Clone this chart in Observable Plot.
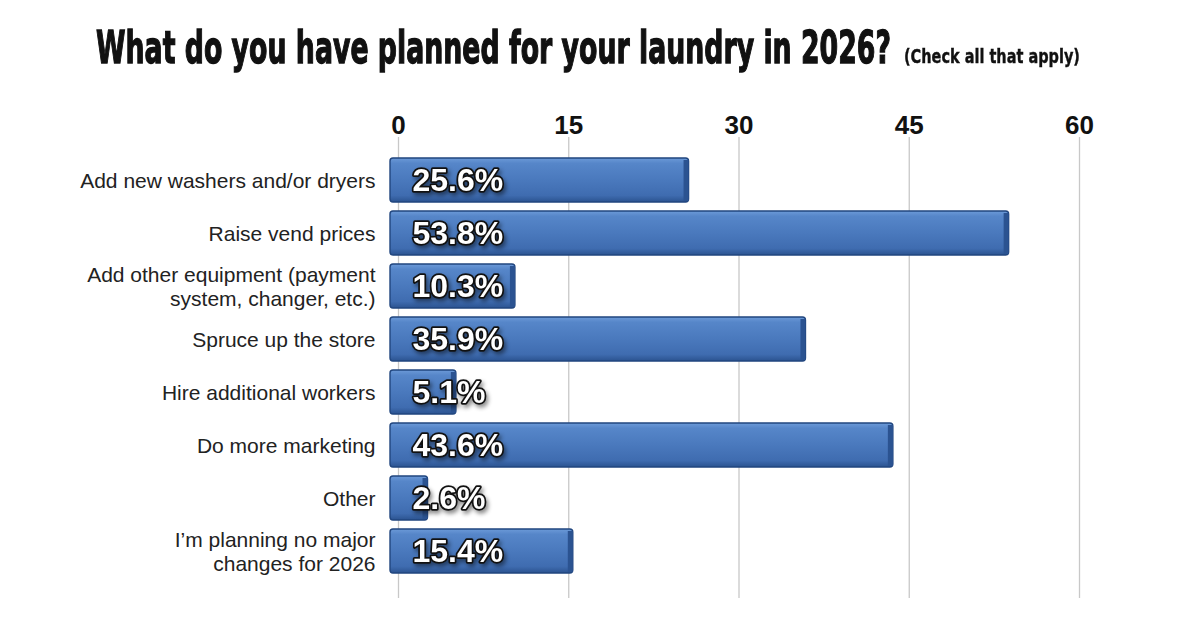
<!DOCTYPE html>
<html>
<head>
<meta charset="utf-8">
<script src="https://cdn.jsdelivr.net/npm/d3@7"></script>
<script src="https://cdn.jsdelivr.net/npm/@observablehq/plot@0.6"></script>
<style>
  html, body { margin: 0; padding: 0; background: #fff; overflow: hidden; }
  #title { position: relative; width: 1200px; height: 95px; }
  #title span { position: absolute; white-space: nowrap; transform-origin: 0 0; color: #111;
    font-family: 'DejaVu Sans', sans-serif; font-weight: bold; line-height: 1; }
  #main { left: 96px; top: 25px; font-size: 45px; -webkit-text-stroke: 1.4px #111; }
  #sub { left: 904px; top: 47px; font-size: 19px; -webkit-text-stroke: 0.4px #111; }
  #chart svg { display: block; }
</style>
</head>
<body>
<div id="title"><span id="main"></span><span id="sub"></span></div>
<div id="chart"></div>
<script>
const titleText = "What do you have planned for your laundry in 2026?";
const subtitleText = "(Check all that apply)";
const categories = [
  "Add new washers and/or dryers",
  "Raise vend prices",
  "Add other equipment (payment\nsystem, changer, etc.)",
  "Spruce up the store",
  "Hire additional workers",
  "Do more marketing",
  "Other",
  "I’m planning no major\nchanges for 2026"
];
const values = [25.6, 53.8, 10.3, 35.9, 5.1, 43.6, 2.6, 15.4];
const xTicks = [0, 15, 30, 45, 60];

const data = categories.map((c, i) => ({category: c, value: values[i], label: values[i].toFixed(1) + "%"}));

// Title: real text, condensed horizontally to fit the reference widths
function fitWidth(el, text, target) {
  el.textContent = text;
  const w = el.getBoundingClientRect().width;
  el.style.transform = `scaleX(${target / w})`;
}
fitWidth(document.getElementById("main"), titleText, 795);
fitWidth(document.getElementById("sub"), subtitleText, 176);

const font = "'Liberation Sans', Arial, sans-serif";

const plot = Plot.plot({
  width: 1200,
  height: 533,
  marginLeft: 398,
  marginRight: 121,
  marginTop: 55,
  marginBottom: 47,
  style: {fontFamily: font, background: "transparent", overflow: "visible"},
  x: {domain: [0, 60], ticks: xTicks, axis: null},
  y: {domain: categories, paddingInner: 0.17, paddingOuter: 0.08, axis: null},
  marks: [
    Plot.ruleX(xTicks, {stroke: "#c8c8c8", strokeWidth: 1.3, insetTop: -13, insetBottom: -17}),
    Plot.axisX(xTicks, {anchor: "top", label: null, tickSize: 0, tickPadding: 17, fontSize: 26, fontWeight: "bold", fill: "#111", tickFormat: d => String(d)}),
    Plot.axisY({anchor: "left", label: null, tickSize: 0, tickPadding: 23, fontSize: 21, fill: "#222", lineHeight: 1.12}),
    Plot.barX(data, {y: "category", x: "value", fill: "url(#barGrad)", stroke: "#21467f", strokeWidth: 1.4, insetLeft: -8, rx: 3}),
    Plot.barX(data, {y: "category", x1: "value", x2: "value", insetLeft: -5, fill: "#2b5391", insetTop: 2, insetBottom: 1}),
    Plot.text(data, {y: "category", x: () => 0, text: "label", textAnchor: "start", dx: 14, fill: "white", stroke: "#111", strokeWidth: 3.5, paintOrder: "stroke", fontSize: 32, fontWeight: "bold", className: "vlabel"})
  ]
});

const svg = d3.select(plot);
const defs = svg.insert("defs", ":first-child");
const g = defs.append("linearGradient").attr("id", "barGrad").attr("x1", 0).attr("y1", 0).attr("x2", 0).attr("y2", 1);
[["0%", "#6c9ad8"], ["12%", "#5686c9"], ["50%", "#4a79bd"], ["85%", "#3f6cb0"], ["100%", "#2b5390"]]
  .forEach(([o, c]) => g.append("stop").attr("offset", o).attr("stop-color", c));
svg.selectAll(".vlabel text").style("filter", "drop-shadow(2px 3px 2px rgba(0,0,0,0.45))");

document.getElementById("chart").append(plot);
</script>
</body>
</html>
